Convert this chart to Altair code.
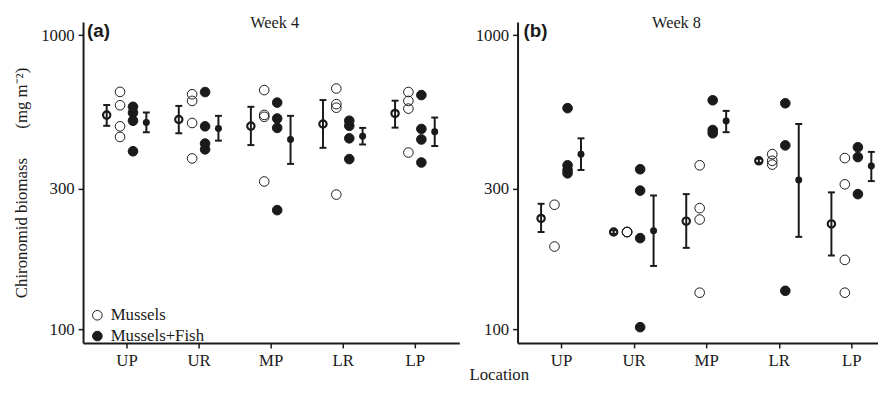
import altair as alt
import pandas as pd

locations = ["UP", "UR", "MP", "LR", "LP"]
treatments = ["Mussels", "Mussels+Fish"]

# Week 4: replicate biomass values (mg m-2) per location
w4_mussels = [[642, 578, 490, 451], [630, 598, 503, 381], [651, 536, 528, 318],
              [659, 583, 567, 287], [641, 598, 563, 399]]
w4_fish = [[571, 545, 512, 403], [641, 490, 428, 409], [590, 521, 484, 254],
           [512, 492, 446, 379], [626, 480, 442, 369]]
w4_mussels_mean = [535, 517, 491, 499, 542]
w4_mussels_lo = [492, 464, 423, 414, 485]
w4_mussels_hi = [579, 575, 571, 602, 599]
w4_fish_mean = [505, 482, 442, 453, 470]
w4_fish_lo = [468, 438, 365, 425, 420]
w4_fish_hi = [546, 532, 532, 484, 525]

# Week 8
w8_mussels = [[265, 191], [214, 214, 214], [361, 258, 236, 133],
              [394, 374, 363], [382, 311, 172, 133]]
w8_fish = [[565, 361, 348, 339], [350, 296, 204, 101.5], [601, 476, 464],
           [587, 422, 135], [416, 385, 288]]
w8_mussels_mean = [238, 214, 233, 374, 228]
w8_mussels_lo = [214, 211, 189, 368, 178]
w8_mussels_hi = [267, 217, 288, 380, 292]
w8_fish_mean = [394, 216, 511, 322, 359]
w8_fish_lo = [348, 164, 468, 206, 319]
w8_fish_hi = [446, 285, 553, 499, 401]

y_ticks = [100, 300, 1000]

INK = "#1a1a1a"
SERIF = "Liberation Serif"
LOC_ARR = "[" + ",".join("'%s'" % l for l in locations) + "]"
Y_TITLE = "Chironomid biomass\u2003\u2002 (mg m\u207b\u00b2)"


def pts_frame(m, f):
    rows = []
    for loc, vals in zip(locations, m):
        rows += [{"loc": loc, "trt": treatments[0], "value": v} for v in vals]
    for loc, vals in zip(locations, f):
        rows += [{"loc": loc, "trt": treatments[1], "value": v} for v in vals]
    return pd.DataFrame(rows)


def mean_frame(mm, ml, mh, fm, fl, fh):
    rows = []
    for i, loc in enumerate(locations):
        rows.append({"loc": loc, "trt": treatments[0], "mean": mm[i], "lo": ml[i], "hi": mh[i]})
        rows.append({"loc": loc, "trt": treatments[1], "mean": fm[i], "lo": fl[i], "hi": fh[i]})
    return pd.DataFrame(rows)


def panel(pts, means, letter, week, xdomain, width, y_title, show_legend, x_title, week_x, letter_x):
    xs = alt.Scale(domain=xdomain, nice=False, zero=False)
    ys = alt.Scale(type="log", domain=[89.7, 1110], nice=False)
    xaxis_kw = dict(values=[1, 2, 3, 4, 5], labelExpr=LOC_ARR + "[datum.value - 1]", grid=False,
                    domainColor=INK, domainWidth=2, tickColor=INK, tickWidth=1.5, tickSize=5,
                    labelFont=SERIF, labelFontSize=17, labelColor=INK, labelPadding=4.5,
                    labelFlush=False, titleFont=SERIF, titleFontSize=17,
                    titleFontWeight="normal", titleColor=INK)
    if x_title:
        xaxis_kw.update(titleX=-19, titleY=37, titleBaseline="alphabetic", titleAlign="center")
    xaxis = alt.Axis(**xaxis_kw)
    yaxis = alt.Axis(values=y_ticks, format="d", grid=False, domainColor=INK, domainWidth=2,
                     tickColor=INK, tickWidth=1.5, tickSize=5, labelFont=SERIF, labelFontSize=17,
                     labelColor=INK, labelPadding=4, titleFont=SERIF, titleFontSize=17,
                     titleFontWeight="normal", titleColor=INK, titlePadding=10)

    def X():
        if x_title:
            return alt.X("xpos:Q", scale=xs, axis=xaxis, title=x_title)
        return alt.X("xpos:Q", scale=xs, axis=xaxis, title=None)

    def Y(field):
        if y_title:
            return alt.Y(field, scale=ys, axis=yaxis, title=y_title)
        return alt.Y(field, scale=ys, axis=yaxis, title=None)

    pts_x = "indexof(%s, datum.loc) + 1 + (datum.trt == '%s' ? -0.09 : 0.09)" % (LOC_ARR, treatments[0])
    mean_x = "indexof(%s, datum.loc) + 1 + (datum.trt == '%s' ? -0.275 : 0.275)" % (LOC_ARR, treatments[0])

    if show_legend:
        legend = alt.Legend(title=None, orient="none", legendX=6, legendY=288.5,
                            labelFont=SERIF, labelFontSize=17, labelColor=INK,
                            symbolSize=95, symbolType="circle", symbolStrokeColor=INK,
                            symbolStrokeWidth=1, rowPadding=3, labelOffset=5)
    else:
        legend = None

    fill = alt.Fill("trt:N", scale=alt.Scale(domain=treatments, range=["rgba(0,0,0,0)", INK]),
                    legend=legend)

    points = alt.Chart(pts).transform_calculate(xpos=pts_x).mark_circle(
        size=95, stroke=INK, strokeWidth=1, opacity=1
    ).encode(x=X(), y=Y("value:Q"), fill=fill)

    mbase = alt.Chart(means).transform_calculate(xpos=mean_x)
    rules = mbase.mark_rule(color=INK, strokeWidth=2).encode(x=X(), y=Y("lo:Q"), y2="hi:Q")
    cap_lo = mbase.mark_tick(orient="horizontal", size=7, thickness=2, color=INK, opacity=1).encode(
        x=X(), y=Y("lo:Q"))
    cap_hi = mbase.mark_tick(orient="horizontal", size=7, thickness=2, color=INK, opacity=1).encode(
        x=X(), y=Y("hi:Q"))
    mean_m = mbase.transform_filter("datum.trt == '%s'" % treatments[0]).mark_point(
        shape="circle", filled=False, size=55, strokeWidth=2.2, color=INK, opacity=1
    ).encode(x=X(), y=Y("mean:Q"))
    mean_f = mbase.transform_filter("datum.trt == '%s'" % treatments[1]).mark_circle(
        size=50, color=INK, opacity=1
    ).encode(x=X(), y=Y("mean:Q"))

    letter_txt = alt.Chart(pd.DataFrame({"t": [letter]})).mark_text(
        align="left", baseline="alphabetic", font="Liberation Sans", fontWeight="bold",
        fontSize=19, color=INK
    ).encode(text="t:N", x=alt.value(letter_x), y=alt.value(15))
    week_txt = alt.Chart(pd.DataFrame({"t": [week]})).mark_text(
        align="center", baseline="alphabetic", font=SERIF, fontSize=16.5, color=INK
    ).encode(text="t:N", x=alt.value(week_x), y=alt.value(6))

    return alt.layer(rules, cap_lo, cap_hi, points, mean_m, mean_f, letter_txt, week_txt).properties(
        width=width, height=325)


pa = panel(pts_frame(w4_mussels, w4_fish),
           mean_frame(w4_mussels_mean, w4_mussels_lo, w4_mussels_hi, w4_fish_mean, w4_fish_lo, w4_fish_hi),
           "(a)", "Week 4", [0.397, 5.616], 381, Y_TITLE, True, None, 194, 4)
pb = panel(pts_frame(w8_mussels, w8_fish),
           mean_frame(w8_mussels_mean, w8_mussels_lo, w8_mussels_hi, w8_fish_mean, w8_fish_lo, w8_fish_hi),
           "(b)", "Week 8", [0.401, 5.367], 365, None, False, "Location", 161, 6)

chart = alt.hconcat(pa, pb, spacing=9).resolve_scale(
    x="independent", fill="independent").resolve_legend(fill="independent").properties(
    padding={"left": 5, "top": 4.8, "right": 0, "bottom": 0}
).configure_view(stroke=None)

chart.save("out.html", embed_options={"renderer": "svg", "actions": False})
